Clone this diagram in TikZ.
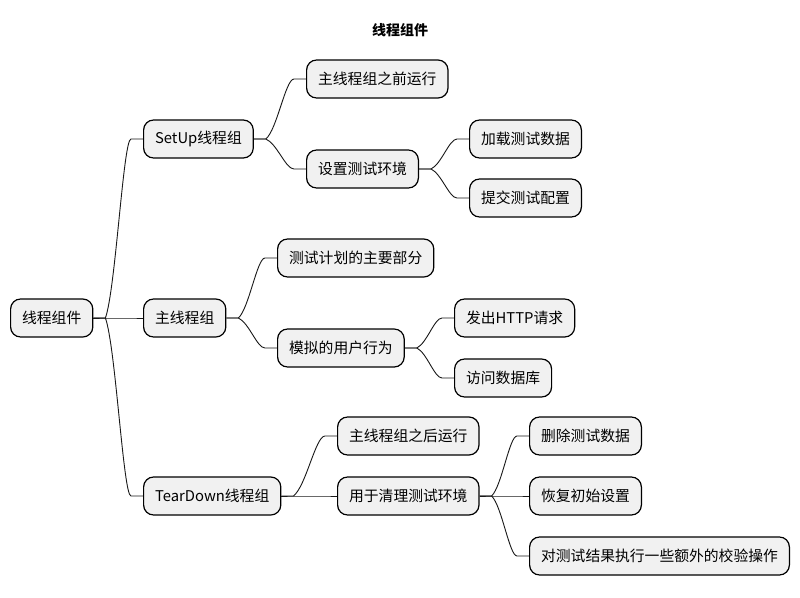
\documentclass[tikz,border=0pt]{standalone}
\usepackage{fontspec}
\setmainfont{Noto Sans CJK SC}
\usetikzlibrary{calc}
\definecolor{mmfill}{HTML}{F1F1F1}
\tikzset{
  mm/.style={draw=black, line width=1.2pt, fill=mmfill, rounded corners=10pt,
    minimum height=38pt, inner xsep=11.5pt, inner ysep=0pt, anchor=west,
    font=\fontsize{14.8}{16}\selectfont},
  link/.style={draw=black!90, line width=0.9pt},
  titlestyle/.style={font=\fontsize{14}{16}\selectfont\bfseries},
}
\newcommand\mmlink[2]{%
  \draw[link] let \p1=($(#1.east)+(12,0)$), \p2=($(#2.west)-(12,0)$) in
    (#1.east) -- (\p1) .. controls ({\x1+0.4*(\x2-\x1)},{\y1+0.16*(\y2-\y1)})
      and ({\x2-0.3*(\x2-\x1)},{\y2}) .. (\p2) -- (#2.west);}
\begin{document}
\begin{tikzpicture}[x=1pt,y=-1pt]
\useasboundingbox[fill=white] (0,0) rectangle (800,597);
\node[titlestyle] (title) at (400,30) {线程组件};
% level 0
\node[mm] (root) at (10,318) {线程组件};
% level 1
\node[mm] (setup) at (143,139) {SetUp线程组};
\node[mm] (main) at (143,318) {主线程组};
\node[mm] (tear) at (143,496) {TearDown线程组};
% setup children
\node[mm] (s1) at (306,79) {主线程组之前运行};
\node[mm] (s2) at (306,169) {设置测试环境};
\node[mm] (s21) at (469,139) {加载测试数据};
\node[mm] (s22) at (469,198) {提交测试配置};
% main children
\node[mm] (m1) at (277,258) {测试计划的主要部分};
\node[mm] (m2) at (277,348) {模拟的用户行为};
\node[mm] (m21) at (454,318) {发出HTTP请求};
\node[mm] (m22) at (454,378) {访问数据库};
% teardown children
\node[mm] (t1) at (337,436) {主线程组之后运行};
\node[mm] (t2) at (337,496) {用于清理测试环境};
\node[mm] (t21) at (529,436) {删除测试数据};
\node[mm] (t22) at (529,496) {恢复初始设置};
\node[mm] (t23) at (529,556) {对测试结果执行一些额外的校验操作};
% links
\mmlink{root}{setup}
\mmlink{root}{main}
\mmlink{root}{tear}
\mmlink{setup}{s1}
\mmlink{setup}{s2}
\mmlink{s2}{s21}
\mmlink{s2}{s22}
\mmlink{main}{m1}
\mmlink{main}{m2}
\mmlink{m2}{m21}
\mmlink{m2}{m22}
\mmlink{tear}{t1}
\mmlink{tear}{t2}
\mmlink{t2}{t21}
\mmlink{t2}{t22}
\mmlink{t2}{t23}
\end{tikzpicture}
\end{document}
